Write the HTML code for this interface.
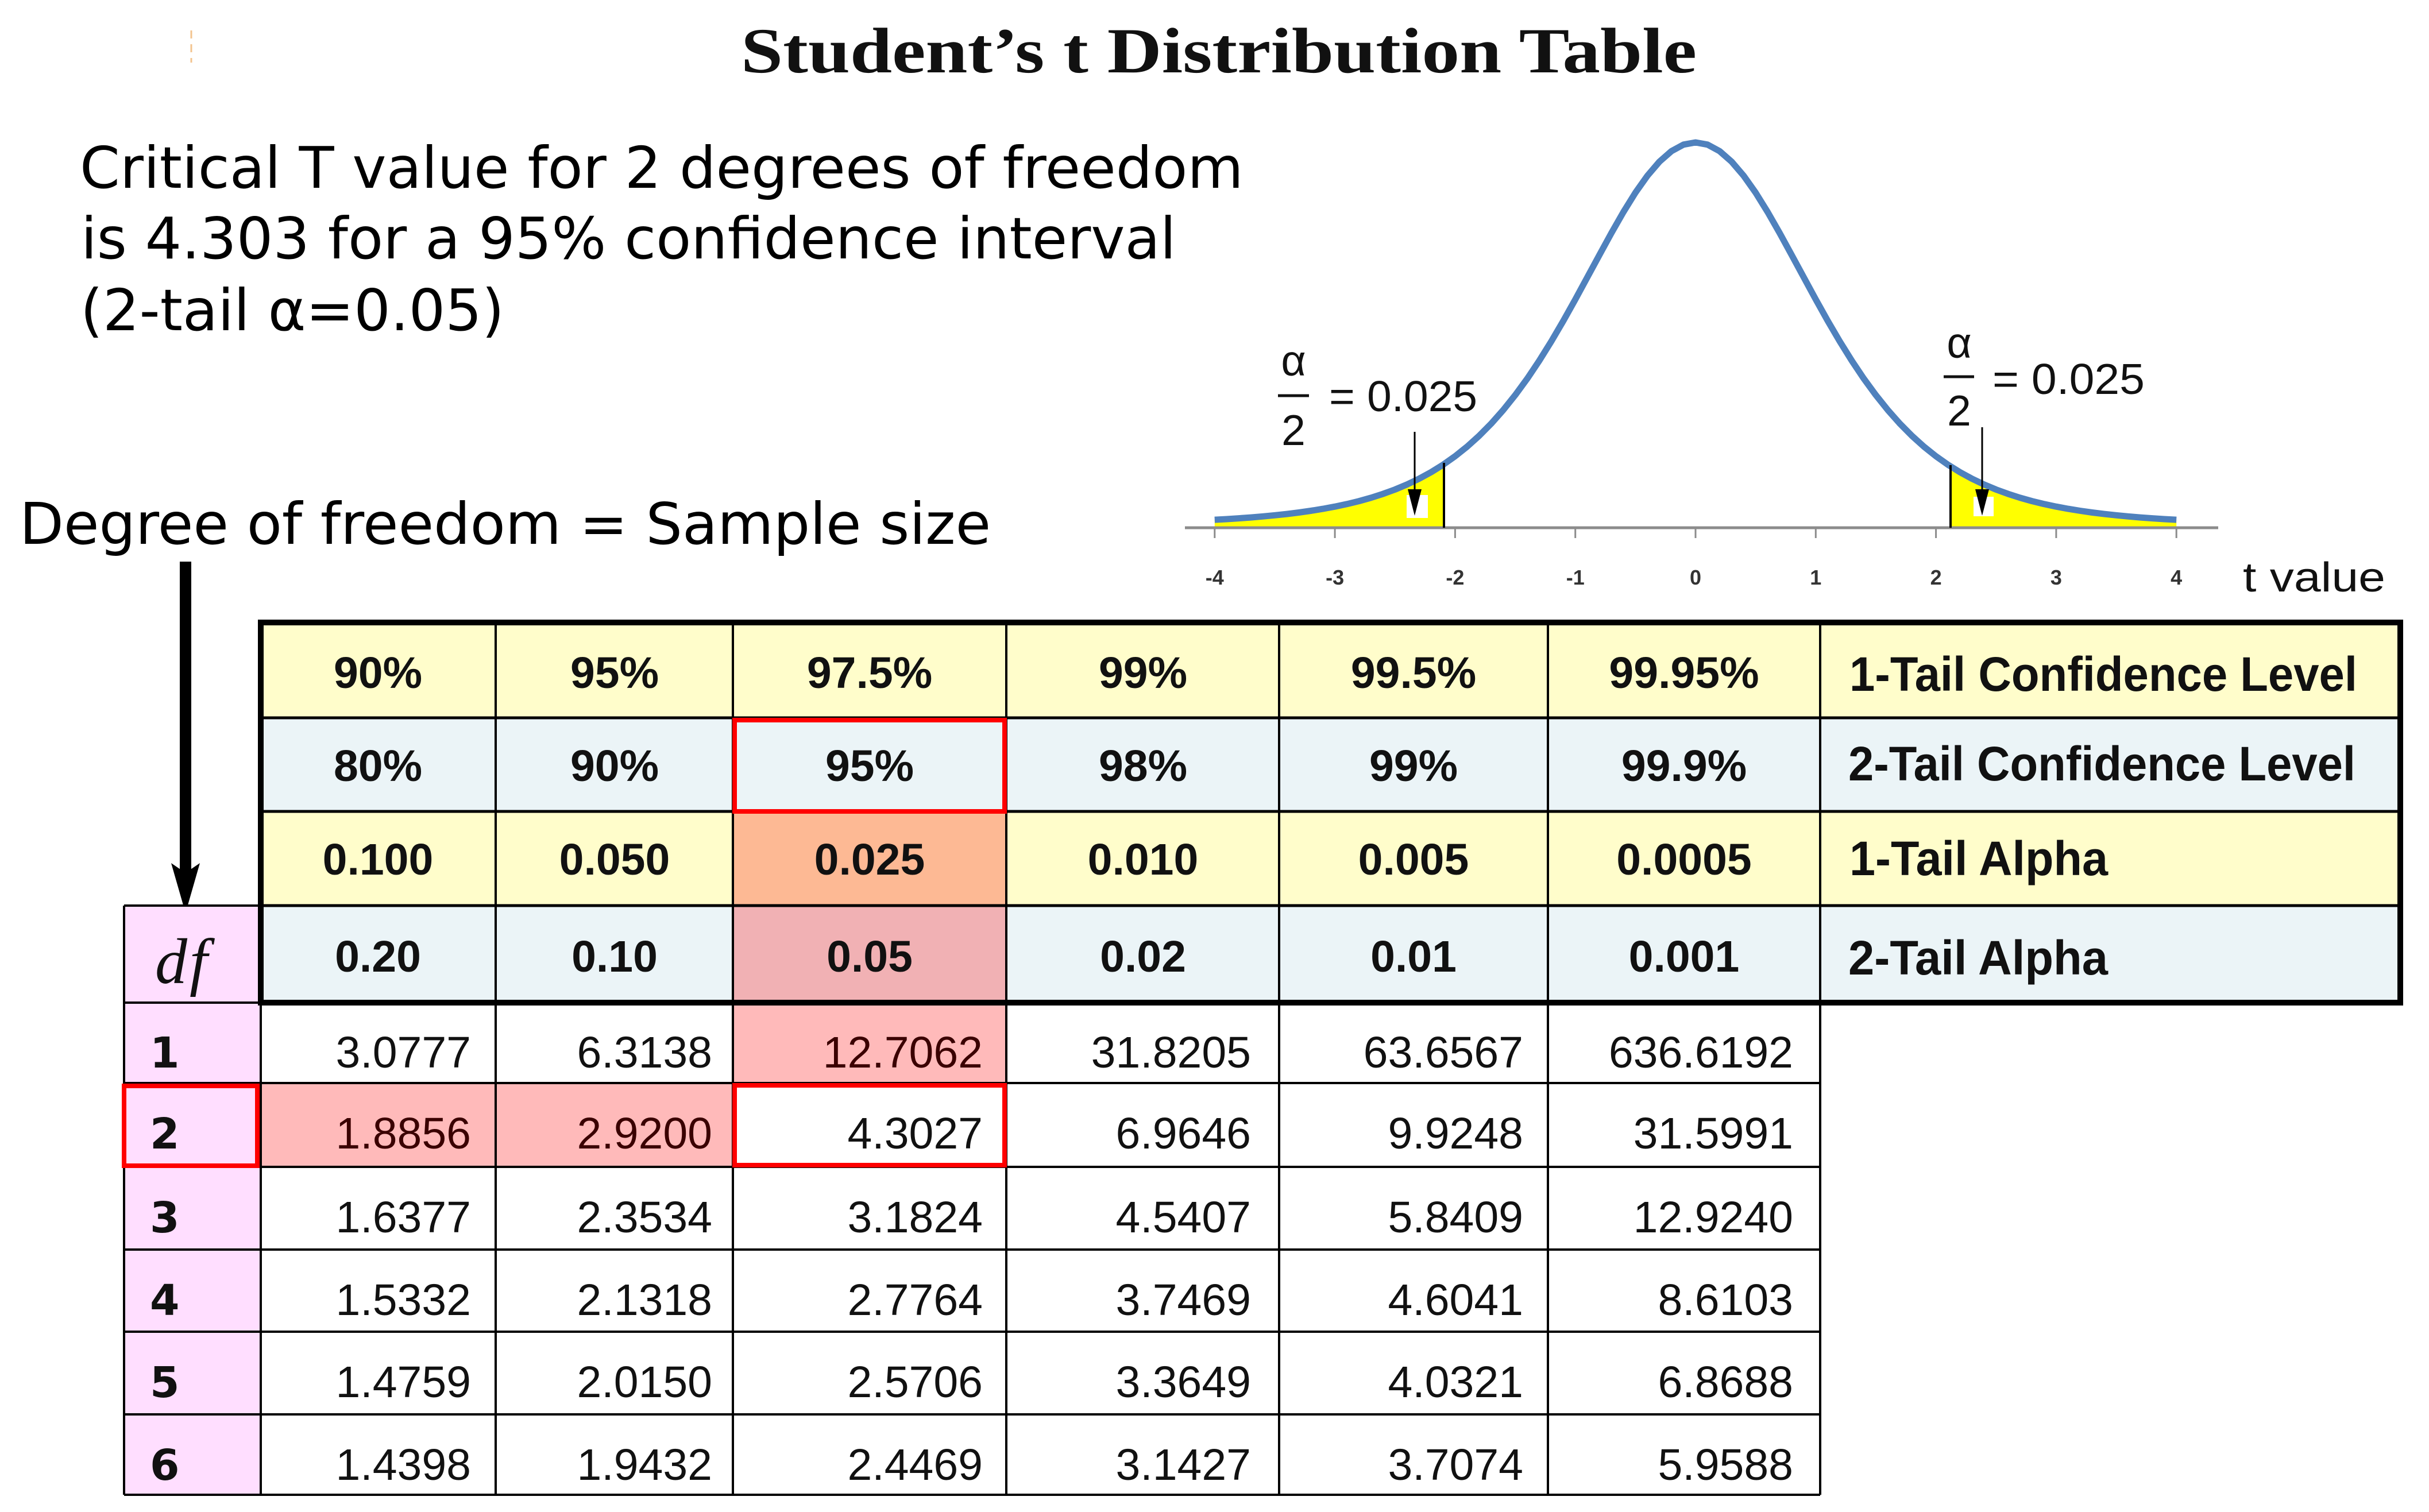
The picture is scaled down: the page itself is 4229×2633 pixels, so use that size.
<!DOCTYPE html>
<html><head><meta charset="utf-8">
<style>
html,body{margin:0;padding:0;background:#fff;}
svg{display:block;}
</style></head>
<body>
<svg width="4229" height="2633" viewBox="0 0 4229 2633" xmlns="http://www.w3.org/2000/svg">
<rect x="0" y="0" width="4229" height="2633" fill="#fff"/>

<!-- faint orange mark -->
<line x1="333" y1="53" x2="333" y2="109" stroke="#f3c48f" stroke-width="3" stroke-dasharray="14 10"/>

<!-- Title -->
<text x="1290" y="126" font-family="'Liberation Serif', serif" font-weight="bold" font-size="112" textLength="1664" lengthAdjust="spacingAndGlyphs" fill="#111">Student’s t Distribution Table</text>

<!-- annotation -->
<g font-family="'DejaVu Sans', 'Liberation Sans', sans-serif" font-size="100" fill="#000">
<text x="139" y="327">Critical T value for 2 degrees of freedom</text>
<text x="141" y="450">is 4.303 for a 95% confidence interval</text>
<text x="140" y="575">(2-tail α=0.05)</text>
<text x="34" y="947">Degree of freedom = Sample size</text>
</g>

<!-- big arrow -->
<rect x="313" y="978" width="20" height="545" fill="#000"/>
<polygon points="298,1503 323,1590 348,1503 323,1520" fill="#000"/>

<!-- distribution chart -->
<g transform="translate(2952,0)">
  <path d="M-837.2,919 L-837.2,905.1 L-816.3,904.0 -795.3,902.6 -774.4,901.1 -753.5,899.3 -732.6,897.3 -711.6,895.1 -690.7,892.5 -669.8,889.5 -648.8,886.1 -627.9,882.2 -607.0,877.8 -586.0,872.7 -565.1,866.8 -544.2,860.1 -523.3,852.5 -502.3,843.7 -481.4,833.7 -460.5,822.3 -439.5,809.3 L-438,808 L-438,919 Z" fill="#ffff00"/>
  <path d="M444,919 L444,811 L460.5,822.3 481.4,833.7 502.3,843.7 523.3,852.5 544.2,860.1 565.1,866.8 586.0,872.7 607.0,877.8 627.9,882.2 648.8,886.1 669.8,889.5 690.7,892.5 711.6,895.1 732.6,897.3 753.5,899.3 774.4,901.1 795.3,902.6 816.3,904.0 837.2,905.1 L837.2,919 Z" fill="#ffff00"/>
  <rect x="-503" y="862" width="37" height="40" fill="#fff"/>
  <rect x="484" y="865" width="35" height="34" fill="#fff"/>
  <path d="M-837.2,905.1 L-816.3,904.0 -795.3,902.6 -774.4,901.1 -753.5,899.3 -732.6,897.3 -711.6,895.1 -690.7,892.5 -669.8,889.5 -648.8,886.1 -627.9,882.2 -607.0,877.8 -586.0,872.7 -565.1,866.8 -544.2,860.1 -523.3,852.5 -502.3,843.7 -481.4,833.7 -460.5,822.3 -439.5,809.3 -418.6,794.5 -397.7,777.8 -376.7,758.9 -355.8,737.8 -334.9,714.2 -314.0,688.1 -293.0,659.4 -272.1,628.2 -251.2,594.6 -230.2,558.8 -209.3,521.4 -188.4,482.9 -167.4,444.1 -146.5,405.9 -125.6,369.3 -104.7,335.6 -83.7,305.9 -62.8,281.5 -41.9,263.2 -20.9,251.8 0,248.0 20.9,251.8 41.9,263.2 62.8,281.5 83.7,305.9 104.7,335.6 125.6,369.3 146.5,405.9 167.4,444.1 188.4,482.9 209.3,521.4 230.2,558.8 251.2,594.6 272.1,628.2 293.0,659.4 314.0,688.1 334.9,714.2 355.8,737.8 376.7,758.9 397.7,777.8 418.6,794.5 439.5,809.3 460.5,822.3 481.4,833.7 502.3,843.7 523.3,852.5 544.2,860.1 565.1,866.8 586.0,872.7 607.0,877.8 627.9,882.2 648.8,886.1 669.8,889.5 690.7,892.5 711.6,895.1 732.6,897.3 753.5,899.3 774.4,901.1 795.3,902.6 816.3,904.0 837.2,905.1" fill="none" stroke="#4f81bd" stroke-width="11" stroke-linejoin="round"/>
  <!-- axis -->
  <line x1="-889" y1="919" x2="910" y2="919" stroke="#8c8c8c" stroke-width="5"/>
  <g stroke="#8c8c8c" stroke-width="3">
    <line x1="-837.2" y1="919" x2="-837.2" y2="937"/>
    <line x1="-627.9" y1="919" x2="-627.9" y2="937"/>
    <line x1="-418.6" y1="919" x2="-418.6" y2="937"/>
    <line x1="-209.3" y1="919" x2="-209.3" y2="937"/>
    <line x1="0" y1="919" x2="0" y2="937"/>
    <line x1="209.3" y1="919" x2="209.3" y2="937"/>
    <line x1="418.6" y1="919" x2="418.6" y2="937"/>
    <line x1="627.9" y1="919" x2="627.9" y2="937"/>
    <line x1="837.2" y1="919" x2="837.2" y2="937"/>
  </g>
  <!-- critical lines -->
  <line x1="-438" y1="919" x2="-438" y2="806" stroke="#000" stroke-width="4"/>
  <line x1="444" y1="919" x2="444" y2="810" stroke="#000" stroke-width="4"/>
  <!-- arrows -->
  <line x1="-489" y1="752" x2="-489" y2="862" stroke="#000" stroke-width="3"/>
  <polygon points="-501,852 -477,852 -489,898" fill="#000"/>
  <line x1="499" y1="744" x2="499" y2="862" stroke="#000" stroke-width="3"/>
  <polygon points="487,852 511,852 499,898" fill="#000"/>
  <!-- tick labels -->
  <g font-family="'Liberation Sans', sans-serif" font-size="36" font-weight="bold" fill="#333" text-anchor="middle">
    <text x="-837.2" y="1018">-4</text>
    <text x="-627.9" y="1018">-3</text>
    <text x="-418.6" y="1018">-2</text>
    <text x="-209.3" y="1018">-1</text>
    <text x="0" y="1018">0</text>
    <text x="209.3" y="1018">1</text>
    <text x="418.6" y="1018">2</text>
    <text x="627.9" y="1018">3</text>
    <text x="837.2" y="1018">4</text>
  </g>
</g>
<text x="3905" y="1030" font-family="'Liberation Sans', sans-serif" font-size="72" textLength="248" lengthAdjust="spacingAndGlyphs" fill="#111">t value</text>

<!-- alpha labels -->
<g font-family="'Liberation Sans', sans-serif" font-size="75" fill="#111">
  <text x="2252" y="654" text-anchor="middle">α</text>
  <line x1="2225" y1="689" x2="2279" y2="689" stroke="#111" stroke-width="5"/>
  <text x="2252" y="775" text-anchor="middle">2</text>
  <text x="2314" y="716" textLength="258" lengthAdjust="spacingAndGlyphs">= 0.025</text>
  <text x="3411" y="623" text-anchor="middle">α</text>
  <line x1="3384" y1="656" x2="3437" y2="656" stroke="#111" stroke-width="5"/>
  <text x="3411" y="741" text-anchor="middle">2</text>
  <text x="3469" y="686" textLength="265" lengthAdjust="spacingAndGlyphs">= 0.025</text>
</g>

<!-- ===== TABLE ===== -->
<rect x="454" y="1084" width="3725" height="166" fill="#fffdcb"/>
<rect x="454" y="1250" width="3725" height="163" fill="#ebf4f7"/>
<rect x="454" y="1413" width="3725" height="164" fill="#fffdcb"/>
<rect x="454" y="1577" width="3725" height="169" fill="#ebf4f7"/>
<rect x="1276" y="1413" width="476" height="164" fill="#fdb994"/>
<rect x="1276" y="1577" width="476" height="169" fill="#f1b1b4"/>
<rect x="1276" y="1746" width="476" height="140" fill="#ffbaba"/>
<rect x="454" y="1886" width="822" height="146" fill="#ffbaba"/>
<rect x="216" y="1577" width="238" height="1026" fill="#ffdeff"/>

<g stroke="#000" stroke-width="5">
  <line x1="454" y1="1250" x2="4179" y2="1250"/>
  <line x1="454" y1="1413" x2="4179" y2="1413"/>
  <line x1="454" y1="1577" x2="4179" y2="1577"/>
</g>
<g stroke="#000" stroke-width="4">
  <line x1="863" y1="1084" x2="863" y2="2603"/>
  <line x1="1276" y1="1084" x2="1276" y2="2603"/>
  <line x1="1752" y1="1084" x2="1752" y2="2603"/>
  <line x1="2227" y1="1084" x2="2227" y2="2603"/>
  <line x1="2695" y1="1084" x2="2695" y2="2603"/>
  <line x1="3169" y1="1084" x2="3169" y2="2603"/>
  <line x1="216" y1="1577" x2="216" y2="2603"/>
  <line x1="454" y1="1746" x2="454" y2="2603"/>
  <line x1="216" y1="1577" x2="454" y2="1577"/>
  <line x1="216" y1="1746" x2="454" y2="1746"/>
  <line x1="216" y1="1886" x2="3169" y2="1886"/>
  <line x1="216" y1="2032" x2="3169" y2="2032"/>
  <line x1="216" y1="2176" x2="3169" y2="2176"/>
  <line x1="216" y1="2319" x2="3169" y2="2319"/>
  <line x1="216" y1="2463" x2="3169" y2="2463"/>
  <line x1="216" y1="2603" x2="3169" y2="2603"/>
</g>
<rect x="454" y="1084" width="3725" height="662" fill="none" stroke="#000" stroke-width="10"/>

<g font-family="'Liberation Sans', sans-serif" font-weight="bold" font-size="77" fill="#111" text-anchor="middle">
  <text x="658" y="1198">90%</text>
  <text x="1070" y="1198">95%</text>
  <text x="1514" y="1198">97.5%</text>
  <text x="1990" y="1198">99%</text>
  <text x="2461" y="1198">99.5%</text>
  <text x="2932" y="1198">99.95%</text>

  <text x="658" y="1360">80%</text>
  <text x="1070" y="1360">90%</text>
  <text x="1514" y="1360">95%</text>
  <text x="1990" y="1360">98%</text>
  <text x="2461" y="1360">99%</text>
  <text x="2932" y="1360">99.9%</text>

  <text x="658" y="1523">0.100</text>
  <text x="1070" y="1523">0.050</text>
  <text x="1514" y="1523">0.025</text>
  <text x="1990" y="1523">0.010</text>
  <text x="2461" y="1523">0.005</text>
  <text x="2932" y="1523">0.0005</text>

  <text x="658" y="1692">0.20</text>
  <text x="1070" y="1692">0.10</text>
  <text x="1514" y="1692">0.05</text>
  <text x="1990" y="1692">0.02</text>
  <text x="2461" y="1692">0.01</text>
  <text x="2932" y="1692">0.001</text>
</g>
<g font-family="'Liberation Sans', sans-serif" font-weight="bold" font-size="84" fill="#111">
  <text x="3220" y="1203" textLength="884" lengthAdjust="spacingAndGlyphs">1-Tail Confidence Level</text>
  <text x="3218" y="1359" textLength="883" lengthAdjust="spacingAndGlyphs">2-Tail Confidence Level</text>
  <text x="3220" y="1524" textLength="450" lengthAdjust="spacingAndGlyphs">1-Tail Alpha</text>
  <text x="3218" y="1697" textLength="452" lengthAdjust="spacingAndGlyphs">2-Tail Alpha</text>
</g>

<g font-family="'Liberation Serif', serif" font-style="italic" font-size="112" fill="#111">
  <text x="270" y="1712">d</text>
  <text x="330" y="1712">f</text>
</g>

<g font-family="'DejaVu Sans', 'Liberation Sans', sans-serif" font-weight="bold" font-size="74" fill="#111">
  <text x="261" y="1859">1</text>
  <text x="261" y="2000">2</text>
  <text x="261" y="2146">3</text>
  <text x="261" y="2290">4</text>
  <text x="261" y="2433">5</text>
  <text x="261" y="2577">6</text>
</g>

<g font-family="'Liberation Sans', sans-serif" font-size="77" fill="#111" text-anchor="end">
  <text x="820" y="1859">3.0777</text>
  <text x="1240" y="1859">6.3138</text>
  <text x="1711" y="1859" fill="#3a0000">12.7062</text>
  <text x="2178" y="1859">31.8205</text>
  <text x="2652" y="1859">63.6567</text>
  <text x="3122" y="1859">636.6192</text>

  <text x="820" y="2000" fill="#3a0000">1.8856</text>
  <text x="1240" y="2000" fill="#3a0000">2.9200</text>
  <text x="1711" y="2000">4.3027</text>
  <text x="2178" y="2000">6.9646</text>
  <text x="2652" y="2000">9.9248</text>
  <text x="3122" y="2000">31.5991</text>

  <text x="820" y="2146">1.6377</text>
  <text x="1240" y="2146">2.3534</text>
  <text x="1711" y="2146">3.1824</text>
  <text x="2178" y="2146">4.5407</text>
  <text x="2652" y="2146">5.8409</text>
  <text x="3122" y="2146">12.9240</text>

  <text x="820" y="2290">1.5332</text>
  <text x="1240" y="2290">2.1318</text>
  <text x="1711" y="2290">2.7764</text>
  <text x="2178" y="2290">3.7469</text>
  <text x="2652" y="2290">4.6041</text>
  <text x="3122" y="2290">8.6103</text>

  <text x="820" y="2433">1.4759</text>
  <text x="1240" y="2433">2.0150</text>
  <text x="1711" y="2433">2.5706</text>
  <text x="2178" y="2433">3.3649</text>
  <text x="2652" y="2433">4.0321</text>
  <text x="3122" y="2433">6.8688</text>

  <text x="820" y="2577">1.4398</text>
  <text x="1240" y="2577">1.9432</text>
  <text x="1711" y="2577">2.4469</text>
  <text x="2178" y="2577">3.1427</text>
  <text x="2652" y="2577">3.7074</text>
  <text x="3122" y="2577">5.9588</text>
</g>

<g fill="none" stroke="#ff0000" stroke-width="8">
  <rect x="1279" y="1254" width="470" height="159"/>
  <rect x="216" y="1891" width="232" height="139"/>
  <rect x="1279" y="1890" width="470" height="139"/>
</g>
</svg>
</body></html>
